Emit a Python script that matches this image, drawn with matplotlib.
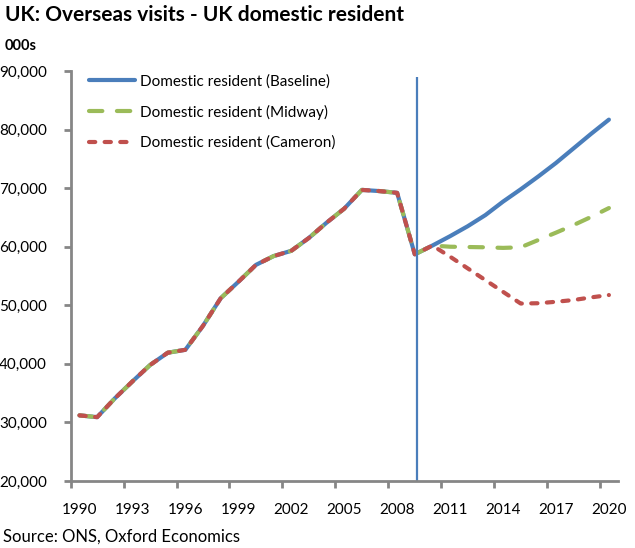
import matplotlib
matplotlib.use('Agg')
import matplotlib.pyplot as plt
from matplotlib.ticker import FuncFormatter

plt.rcParams['font.family'] = ['Lato', 'DejaVu Sans']

years = list(range(1990, 2021))

# shared history 1990-2010
history = [31200, 30900, 34100, 37000, 39800, 41900, 42400, 46500, 51200, 54000,
           56900, 58400, 59300, 61500, 64100, 66500, 69700, 69500, 69200, 58700, 60200]

baseline_fc = [61800, 63500, 65400, 67700, 69800, 72000, 74300, 76800, 79300, 81700]
midway_fc = [60000, 59950, 59900, 59800, 59900, 61150, 62400, 63700, 65100, 66600]
cameron_fc = [58300, 56300, 54300, 52300, 50300, 50350, 50600, 50900, 51350, 51750]

baseline = history + baseline_fc
midway = history + midway_fc
cameron = history + cameron_fc

series_labels = ['Domestic resident (Baseline)', 'Domestic resident (Midway)',
                 'Domestic resident (Cameron)']
label_years = list(range(1990, 2021, 3))
break_year = 2009.1

fig = plt.figure(figsize=(6.35, 5.48), dpi=100)
ax = fig.add_axes([0.1113, 0.1223, 0.8615, 0.7481])

ax.plot(years, baseline, color='#4A7EBB', lw=3.0, solid_capstyle='round',
        label=series_labels[0])
ax.plot(years, midway, color='#9BBB59', lw=3.0, dashes=(3.2, 3.5),
        dash_capstyle='round', label=series_labels[1])
ax.plot(years, cameron, color='#C0504D', lw=3.0, dashes=(1.5, 2.25),
        dash_capstyle='round', label=series_labels[2])
ax.vlines(break_year, 20000, 89000, color='#4A7EBB', lw=1.6)

ax.set_xlim(1989.5, 2020.5)
ax.set_ylim(20000, 90000)
ax.set_yticks(range(20000, 90001, 10000))
ax.yaxis.set_major_formatter(FuncFormatter(lambda v, p: f'{int(v):,}'))

# category-style axis: ticks between categories, labels on categories
ax.set_xticks([y - 0.5 for y in label_years])
ax.set_xticklabels([])
ax.set_xticks(label_years, minor=True)
ax.set_xticklabels([str(y) for y in label_years], minor=True)
ax.tick_params(axis='x', which='major', length=5, width=2, color='#868686')
ax.tick_params(axis='x', which='minor', length=0, pad=16, labelsize=11)
ax.tick_params(axis='y', length=5, width=2, color='#868686', pad=12, labelsize=11)

for s in ['top', 'right']:
    ax.spines[s].set_visible(False)
for s in ['left', 'bottom']:
    ax.spines[s].set_color('#868686')
    ax.spines[s].set_linewidth(2)

leg = ax.legend(loc='upper left', bbox_to_anchor=(0.008, 1.026), frameon=False,
                fontsize=11, handlelength=3.0, handletextpad=0.35, labelspacing=1.05)

fig.text(0.008, 0.972, 'UK: Overseas visits - UK domestic resident', fontsize=15,
         fontweight='bold', va='center', ha='left')
fig.text(0.008, 0.916, '000s', fontsize=10.5, fontweight='bold', va='center', ha='left')
fig.text(0.004, 0.020, 'Source: ONS, Oxford Economics', fontsize=12, va='center', ha='left')

fig.savefig('out.png', dpi=100)
